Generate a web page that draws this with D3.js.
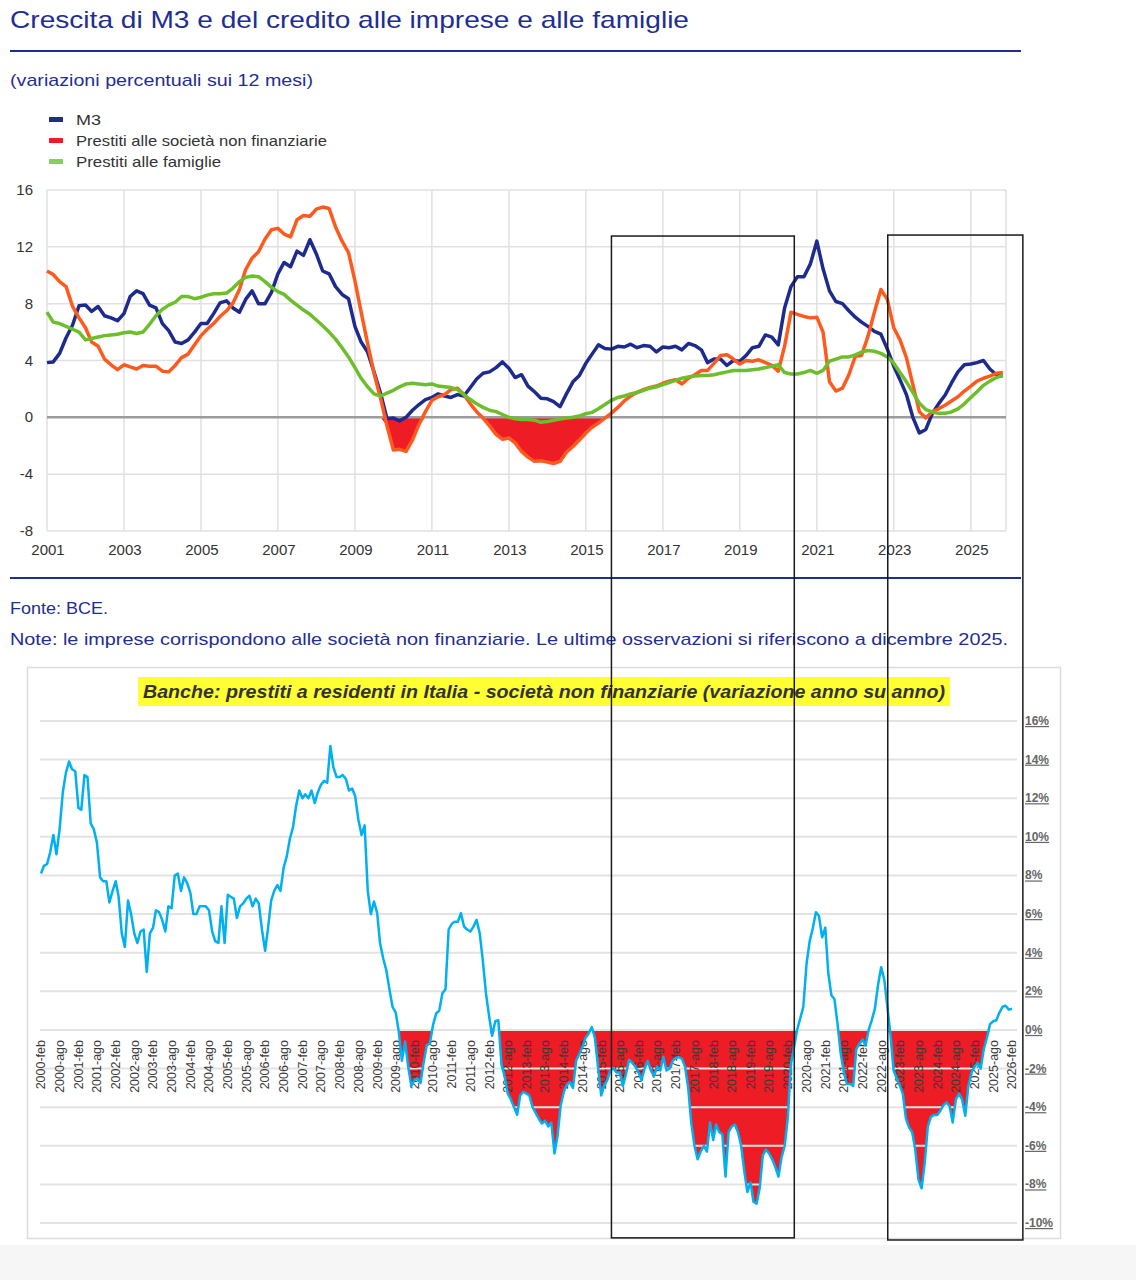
<!DOCTYPE html>
<html>
<head>
<meta charset="utf-8">
<script src="https://cdn.jsdelivr.net/npm/d3@7"></script>
<style>
body{margin:0;background:#fff;}
svg text{font-family:"Liberation Sans",Arial,sans-serif;}
</style>
</head>
<body>
<div id="chart"></div>
<script>
var svgW=1136,svgH=1280;
var navy="#1f2e93";

//top chart: bimonthly readings Jan 2001 - Nov 2025
var topDates=d3.timeMonth.every(2).range(new Date(2001,0,1),new Date(2025,11,1));
var m3=[
 3.85,3.9,4.5,5.6,6.5,7.85, 7.9,7.45,7.8,7.15,7.0,6.8, 7.3,8.5,8.9,8.7,7.9,7.7,
 6.6,6.1,5.3,5.2,5.45,6.0, 6.6,6.6,7.3,8.05,8.2,7.7, 7.4,8.3,8.9,8.0,8.0,8.8,
 10.1,10.9,10.6,11.7,11.4,12.5, 11.5,10.3,10.1,9.2,8.65,8.35, 6.4,5.3,4.6,3.2,1.7,-0.1,
 -0.05,-0.25,0.0,0.5,0.9,1.25, 1.4,1.65,1.5,1.4,1.6,1.5, 2.1,2.7,3.1,3.2,3.5,3.9,
 3.45,2.8,3.0,2.2,1.8,1.35, 1.3,1.1,0.75,1.65,2.5,2.95, 3.8,4.45,5.1,4.85,4.8,5.0,
 4.95,5.15,4.9,5.05,5.0,4.6, 4.95,4.9,5.0,4.75,5.2,5.05, 4.75,3.85,4.1,4.1,3.65,4.0,
 3.95,4.35,4.9,5.0,5.8,5.65, 5.1,7.7,9.2,9.9,9.9,10.8, 12.4,10.45,8.9,8.15,8.0,7.5,
 7.05,6.7,6.4,6.05,5.85,4.8, 3.6,2.65,1.6,0.0,-1.1,-0.85, 0.25,0.95,1.55,2.4,3.2,3.7,
 3.75,3.85,4.0,3.4,3.0,2.9];
var loansNfc=[
 10.3,10.05,9.55,9.2,7.8,7.0, 6.3,5.3,5.0,4.1,3.7,3.35, 3.7,3.55,3.4,3.65,3.6,3.6,
 3.25,3.2,3.65,4.2,4.45,5.1, 5.75,6.2,6.6,7.1,7.5,8.05, 9.0,10.4,11.2,11.65,12.55,13.2,
 13.3,12.9,12.7,13.9,14.2,14.15, 14.65,14.8,14.7,13.4,12.4,11.6, 9.6,7.4,5.2,3.1,1.35,-0.6,
 -2.3,-2.25,-2.4,-1.6,-0.5,0.4, 1.2,1.45,1.6,1.95,2.05,1.6, 0.95,0.4,-0.05,-0.6,-1.2,-1.55,
 -1.45,-1.8,-2.4,-2.8,-3.1,-3.05, -3.15,-3.25,-3.1,-2.45,-2.05,-1.6, -1.1,-0.7,-0.4,-0.05,0.3,0.7,
 1.15,1.5,1.75,1.95,2.1,2.2, 2.4,2.55,2.65,2.35,2.75,3.0, 3.3,3.3,3.8,4.35,4.4,4.1,
 3.75,4.0,3.95,4.05,3.85,3.65, 3.25,5.0,7.4,7.25,7.1,7.0, 7.05,6.0,2.5,1.85,2.05,3.0,
 4.3,4.35,5.7,7.4,9.0,8.3, 6.3,5.45,4.2,2.3,0.4,-0.05, 0.4,0.6,0.85,1.15,1.45,1.85,
 2.2,2.55,2.75,2.9,3.1,3.15];
var loansHh=[
 7.4,6.7,6.6,6.4,6.2,6.0, 5.45,5.55,5.65,5.75,5.8,5.85, 5.95,6.0,5.9,6.0,6.55,7.15,
 7.6,7.9,8.1,8.5,8.5,8.35, 8.45,8.6,8.7,8.7,8.75,9.1, 9.55,9.85,9.95,9.9,9.55,9.15,
 8.85,8.65,8.25,7.9,7.55,7.25, 6.85,6.45,6.0,5.5,4.9,4.25, 3.5,2.75,2.15,1.65,1.5,1.7,
 1.9,2.15,2.35,2.4,2.35,2.3, 2.35,2.2,2.15,2.1,1.95,1.6, 1.25,0.95,0.7,0.5,0.4,0.2,
 0.0,-0.1,-0.15,-0.15,-0.2,-0.35, -0.3,-0.2,-0.12,-0.05,0.0,0.1, 0.25,0.35,0.6,0.9,1.2,1.4,
 1.5,1.65,1.75,1.9,2.05,2.15, 2.3,2.45,2.6,2.75,2.85,2.9, 2.95,2.95,3.0,3.1,3.2,3.3,
 3.3,3.3,3.35,3.4,3.5,3.6, 3.7,3.15,3.05,3.05,3.15,3.3, 3.1,3.3,3.95,4.1,4.25,4.25,
 4.4,4.6,4.7,4.65,4.5,4.25, 3.8,3.15,2.5,1.75,1.0,0.55, 0.38,0.28,0.28,0.38,0.6,0.95,
 1.4,1.8,2.25,2.55,2.8,2.95];
var topYTicks=[16,12,8,4,0,-4,-8];
var topXYears=[2001,2003,2005,2007,2009,2011,2013,2015,2017,2019,2021,2023,2025];
var legendNames=["M3","Prestiti alle società non finanziarie","Prestiti alle famiglie"];

//bottom chart: monthly Feb 2000 - Feb 2026
var bankDates=d3.timeMonth.range(new Date(2000,1,1),new Date(2026,2,1));
var bankLoans=[
 8.1,8.5,8.6,9.2,10.1,9.1,10.4,12.3,13.3,13.9,13.5,13.4,
 11.5,11.4,13.2,13.1,10.7,10.4,9.7,7.9,7.7,7.7,6.6,7.2,
 7.7,6.9,5.0,4.3,6.7,6.0,5.0,4.5,5.1,5.2,3.0,5.0,
 5.3,6.2,6.1,5.7,5.1,6.4,6.3,8.0,8.1,7.2,7.9,7.6,
 7.1,6.0,6.0,6.4,6.4,6.4,6.2,5.1,4.6,4.5,6.4,4.5,
 7.0,6.9,6.8,5.8,6.4,6.55,6.8,6.95,6.4,6.8,6.55,5.2,
 4.1,5.25,6.7,7.2,7.5,7.2,8.4,9.0,9.9,10.5,11.6,12.4,
 12.0,12.2,12.0,12.4,11.75,12.3,12.7,12.9,12.8,14.7,13.6,13.1,
 13.1,13.2,13.0,12.4,12.5,12.1,10.9,10.1,10.6,7.2,6.0,6.65,
 6.05,4.5,3.7,3.1,2.1,1.2,0.9,-0.1,-1.6,-0.6,-1.9,-2.9,
 -2.6,-2.5,-2.75,-1.7,-0.8,-0.7,0.25,0.85,1.0,1.9,2.1,5.2,
 5.5,5.6,5.6,6.05,5.35,5.2,5.1,5.35,5.7,5.0,3.6,1.9,
 0.7,-0.3,0.45,0.5,-1.8,-2.4,-3.3,-3.6,-4.0,-4.4,-3.4,-3.2,
 -3.3,-3.4,-4.0,-4.3,-4.6,-4.85,-4.7,-5.0,-4.8,-6.4,-5.5,-3.9,
 -3.2,-2.85,-2.7,-3.0,-1.6,-1.25,-0.9,-0.4,-0.2,0.15,-0.4,-1.9,
 -3.4,-2.9,-2.6,-2.1,-2.0,-2.2,-2.2,-2.9,-2.3,-1.55,-1.7,-1.9,
 -2.2,-2.6,-2.0,-1.6,-2.1,-2.4,-1.9,-2.1,-1.4,-2.1,-2.0,-1.6,
 -1.45,-1.4,-1.5,-1.9,-3.0,-4.8,-6.0,-6.7,-6.3,-6.0,-6.3,-4.8,
 -5.7,-4.9,-5.3,-5.4,-7.6,-5.3,-5.0,-4.9,-5.3,-6.0,-7.3,-8.4,
 -7.9,-8.9,-9.0,-8.2,-6.5,-6.2,-6.4,-6.7,-7.1,-7.6,-6.6,-6.0,
 -4.5,-1.8,-0.9,0.0,0.6,1.2,3.4,4.6,5.25,6.1,5.9,4.8,
 5.3,3.0,1.8,1.6,0.3,-1.2,-2.2,-2.8,-2.8,-2.9,-1.0,-0.7,
 -0.5,-0.8,0.0,0.5,1.1,2.3,3.25,2.6,1.2,-0.3,-2.1,-2.5,
 -2.9,-3.3,-4.6,-5.05,-5.3,-6.2,-7.75,-8.2,-6.9,-5.0,-4.5,-4.4,
 -4.4,-4.2,-3.9,-3.75,-3.95,-4.8,-3.6,-3.3,-3.6,-4.45,-2.9,-2.2,
 -1.9,-1.7,-2.0,-1.0,-0.4,0.3,0.45,0.5,0.9,1.2,1.25,1.05,
 1.1];
var bankYTicks=[16,14,12,10,8,6,4,2,0,-2,-4,-6,-8,-10];
var monthNames={1:"feb",7:"ago"};

//hand-drawn frames laid over both charts
var boxPeriods=[[new Date(2015,8,1),new Date(2020,5,1),12.76,-10.77],[new Date(2022,10,5),new Date(2026,4,10),12.83,-10.88]];

function fit(t,len){ t.attr("textLength",len).attr("lengthAdjust","spacingAndGlyphs"); }

var svg=d3.select("#chart").append("svg")
    .attr("width",svgW).attr("height",svgH);

svg.append("rect").attr("x",0).attr("y",1245).attr("width",svgW).attr("height",35).attr("fill","#f6f6f6");

//######################## TOP CHART ########################
fit(svg.append("text").attr("x",10).attr("y",28).attr("fill",navy)
    .style("font-size","24px").text("Crescita di M3 e del credito alle imprese e alle famiglie"),679);
svg.append("line").attr("x1",10).attr("x2",1021).attr("y1",51).attr("y2",51)
    .attr("stroke",navy).attr("stroke-width",2);
fit(svg.append("text").attr("x",10).attr("y",86).attr("fill",navy)
    .style("font-size","17px").text("(variazioni percentuali sui 12 mesi)"),303);

var legendColors=["#1f2d8c","#ee1c25","#86cf58"];
var legendWidths=[25,251,145];
var lg=svg.append("g");
legendNames.forEach(function(d,i){
    lg.append("rect").attr("x",49).attr("y",117+i*21).attr("width",14).attr("height",5).attr("fill",legendColors[i]);
    fit(lg.append("text").attr("x",76).attr("y",125+i*21).attr("fill","#333")
        .style("font-size","15px").text(d),legendWidths[i]);
});

var xTop=d3.scaleTime().domain([new Date(2001,0,1),new Date(2025,11,1)]).range([47,1006]);
var yTop=d3.scaleLinear().domain([-8,16]).range([531,190]);

var gridTop=svg.append("g");
topYTicks.forEach(function(v){
    gridTop.append("line").attr("x1",47).attr("x2",1006).attr("y1",yTop(v)).attr("y2",yTop(v))
        .attr("stroke","#e1e1e1").attr("stroke-width",1.5);
    svg.append("text").attr("x",33).attr("y",yTop(v)+5).attr("text-anchor","end")
        .attr("fill","#333").style("font-size","15px").text(v);
});
topXYears.forEach(function(y){
    var x=xTop(new Date(y,0,1));
    gridTop.append("line").attr("x1",x).attr("x2",x).attr("y1",190).attr("y2",531)
        .attr("stroke","#e1e1e1").attr("stroke-width",1.5);
    svg.append("text").attr("x",x+1).attr("y",555).attr("text-anchor","middle")
        .attr("fill","#333").style("font-size","15px").text(y);
});
gridTop.append("line").attr("x1",1006).attr("x2",1006).attr("y1",190).attr("y2",531)
    .attr("stroke","#e1e1e1").attr("stroke-width",1.5);

//red shading where loans to firms are negative
var redTop=d3.area()
    .x(function(d,i){return xTop(topDates[i]);})
    .y0(yTop(0))
    .y1(function(d){return yTop(Math.min(0,d));});
svg.append("path").datum(loansNfc).attr("d",redTop).attr("fill","#ee1c25");

svg.append("line").attr("x1",47).attr("x2",1006).attr("y1",yTop(0)).attr("y2",yTop(0))
    .attr("stroke","#9c9c9c").attr("stroke-width",2.5);

var lineTop=d3.line()
    .x(function(d,i){return xTop(topDates[i]);})
    .y(function(d){return yTop(d);});
svg.append("path").datum(m3).attr("d",lineTop).attr("fill","none")
    .attr("stroke","#1e2b8e").attr("stroke-width",3.5).attr("stroke-linejoin","round");
svg.append("path").datum(loansNfc).attr("d",lineTop).attr("fill","none")
    .attr("stroke","#ff5a1e").attr("stroke-width",3.5).attr("stroke-linejoin","round");
svg.append("path").datum(loansHh).attr("d",lineTop).attr("fill","none")
    .attr("stroke","#6cbf2a").attr("stroke-width",3.5).attr("stroke-linejoin","round");

svg.append("line").attr("x1",10).attr("x2",1021).attr("y1",578).attr("y2",578)
    .attr("stroke",navy).attr("stroke-width",2);
fit(svg.append("text").attr("x",10).attr("y",614).attr("fill",navy)
    .style("font-size","17px").text("Fonte: BCE."),98);
fit(svg.append("text").attr("x",10).attr("y",645).attr("fill",navy)
    .style("font-size","17px").text("Note: le imprese corrispondono alle società non finanziarie. Le ultime osservazioni si riferiscono a dicembre 2025."),998);

//######################## BOTTOM CHART ########################
svg.append("rect").attr("x",27.5).attr("y",667.5).attr("width",1033).attr("height",571)
    .attr("fill","#fff").attr("stroke","#dcdcdc").attr("stroke-width",1.5);
svg.append("rect").attr("x",138).attr("y",677).attr("width",812).attr("height",29).attr("fill","#ffff33");
fit(svg.append("text").attr("x",143).attr("y",698).attr("fill","#333")
    .style("font-size","19px").style("font-weight","bold").style("font-style","italic")
    .text("Banche: prestiti a residenti in Italia - società non finanziarie (variazione anno su anno)"),802);

var xBank=d3.scaleTime().domain([new Date(2000,1,1),new Date(2026,1,1)]).range([41,1012]);
var yBank=d3.scaleLinear().domain([-10,16]).range([1223,721]);

var redBank=d3.area()
    .x(function(d,i){return xBank(bankDates[i]);})
    .y0(yBank(0))
    .y1(function(d){return yBank(Math.min(0,d));});
svg.append("path").datum(bankLoans).attr("d",redBank).attr("fill","#ee1c25");

bankYTicks.forEach(function(v){
    svg.append("line").attr("x1",40).attr("x2",1017).attr("y1",yBank(v)).attr("y2",yBank(v))
        .attr("stroke","#e3e3e3").attr("stroke-width",2);
    svg.append("text").attr("x",1025).attr("y",yBank(v)+4).attr("fill","#666")
        .style("font-size","12px").style("font-weight","bold").style("text-decoration","underline")
        .text(v+"%");
});

var bankTicks=bankDates.filter(function(d){return monthNames[d.getMonth()]!=undefined;});
svg.append("g").selectAll("text").data(bankTicks).enter().append("text")
    .attr("transform",function(d){return "translate("+xBank(d)+",1040) rotate(-90)";})
    .attr("text-anchor","end").attr("dy","0.35em")
    .attr("fill","#3a3a3a").style("font-size","12.5px")
    .text(function(d){return d.getFullYear()+"-"+monthNames[d.getMonth()];});

var lineBank=d3.line()
    .x(function(d,i){return xBank(bankDates[i]);})
    .y(function(d){return yBank(d);});
svg.append("path").datum(bankLoans).attr("d",lineBank).attr("fill","none")
    .attr("stroke","#00b0f0").attr("stroke-width",2.5).attr("stroke-linejoin","round");

//black frames
boxPeriods.forEach(function(b){
    var x1=xTop(b[0]),x2=xTop(b[1]),y1=yTop(b[2]),y2=yBank(b[3]);
    svg.append("rect").attr("x",x1).attr("y",y1).attr("width",x2-x1).attr("height",y2-y1)
        .attr("fill","none").attr("stroke","#1a1a1a").attr("stroke-width",1.5);
});
</script>
</body>
</html>
